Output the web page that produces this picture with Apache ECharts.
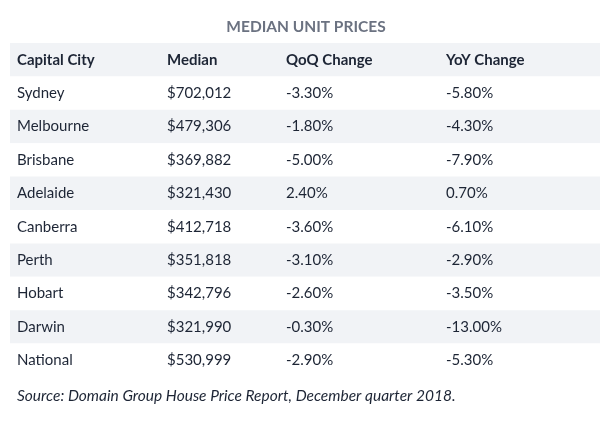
<!DOCTYPE html>
<html>
<head>
<meta charset="utf-8">
<script src="https://cdn.jsdelivr.net/npm/echarts@6/dist/echarts.min.js"></script>
<style>
html,body{margin:0;padding:0;background:#fff;}
#chart{width:600px;height:438px;}
</style>
</head>
<body>
<div id="chart"></div>
<script>
var titleText = 'MEDIAN UNIT PRICES';
var sourceText = 'Source: Domain Group House Price Report, December quarter 2018.';
var headers = ['Capital City', 'Median', 'QoQ Change', 'YoY Change'];
var cities = ['Sydney', 'Melbourne', 'Brisbane', 'Adelaide', 'Canberra', 'Perth', 'Hobart', 'Darwin', 'National'];
var medians = ['$702,012', '$479,306', '$369,882', '$321,430', '$412,718', '$351,818', '$342,796', '$321,990', '$530,999'];
var qoq = ['-3.30%', '-1.80%', '-5.00%', '2.40%', '-3.60%', '-3.10%', '-2.60%', '-0.30%', '-2.90%'];
var yoy = ['-5.80%', '-4.30%', '-7.90%', '0.70%', '-6.10%', '-2.90%', '-3.50%', '-13.00%', '-5.30%'];

// layout (x offset of each column inside grid)
var colX = [7, 157, 276, 436];

var rows = [headers];
for (var i = 0; i < cities.length; i++) rows.push([cities[i], medians[i], qoq[i], yoy[i]]);
var rowNames = rows.map(function (r) { return r[0]; });

var cells = [];
rows.forEach(function (r, ri) {
  r.forEach(function (t, ci) { cells.push([ci, ri, t]); });
});

var chart = echarts.init(document.getElementById('chart'), null, {renderer: 'canvas'});
chart.setOption({
  animation: false,
  backgroundColor: '#ffffff',
  title: [{
    text: titleText,
    left: 301,
    textAlign: 'center',
    top: 14,
    textStyle: {fontFamily: 'Lato', fontWeight: 'bold', fontSize: 15.5, color: '#6b7281'}
  }, {
    text: sourceText,
    left: 12,
    top: 383,
    textStyle: {fontFamily: 'Lato', fontStyle: 'italic', fontWeight: 'normal', fontSize: 15.5, color: '#1d2535'}
  }],
  grid: {left: 10, right: 0, top: 43, bottom: 61},
  xAxis: {
    type: 'value', min: 0, max: 590, show: false
  },
  yAxis: {
    type: 'category',
    data: rowNames,
    inverse: true,
    axisLine: {show: false},
    axisTick: {show: false},
    axisLabel: {show: false},
    splitLine: {show: false},
    splitArea: {show: true, areaStyle: {color: ['#f1f3f6', '#ffffff']}}
  },
  series: [{
    type: 'custom',
    data: cells,
    encode: {x: 0, y: 1},
    renderItem: function (params, api) {
      var ci = api.value(0), ri = api.value(1);
      var t = cells[params.dataIndex][2];
      var p = api.coord([colX[ci], ri]);
      return {
        type: 'text',
        style: {
          x: p[0], y: p[1], text: t,
          fill: '#1d2535',
          font: (ri === 0 ? 'bold ' : '') + '15px Lato',
          textAlign: 'left', textVerticalAlign: 'middle',
          align: 'left', verticalAlign: 'middle'
        }
      };
    }
  }]
});
</script>
</body>
</html>
